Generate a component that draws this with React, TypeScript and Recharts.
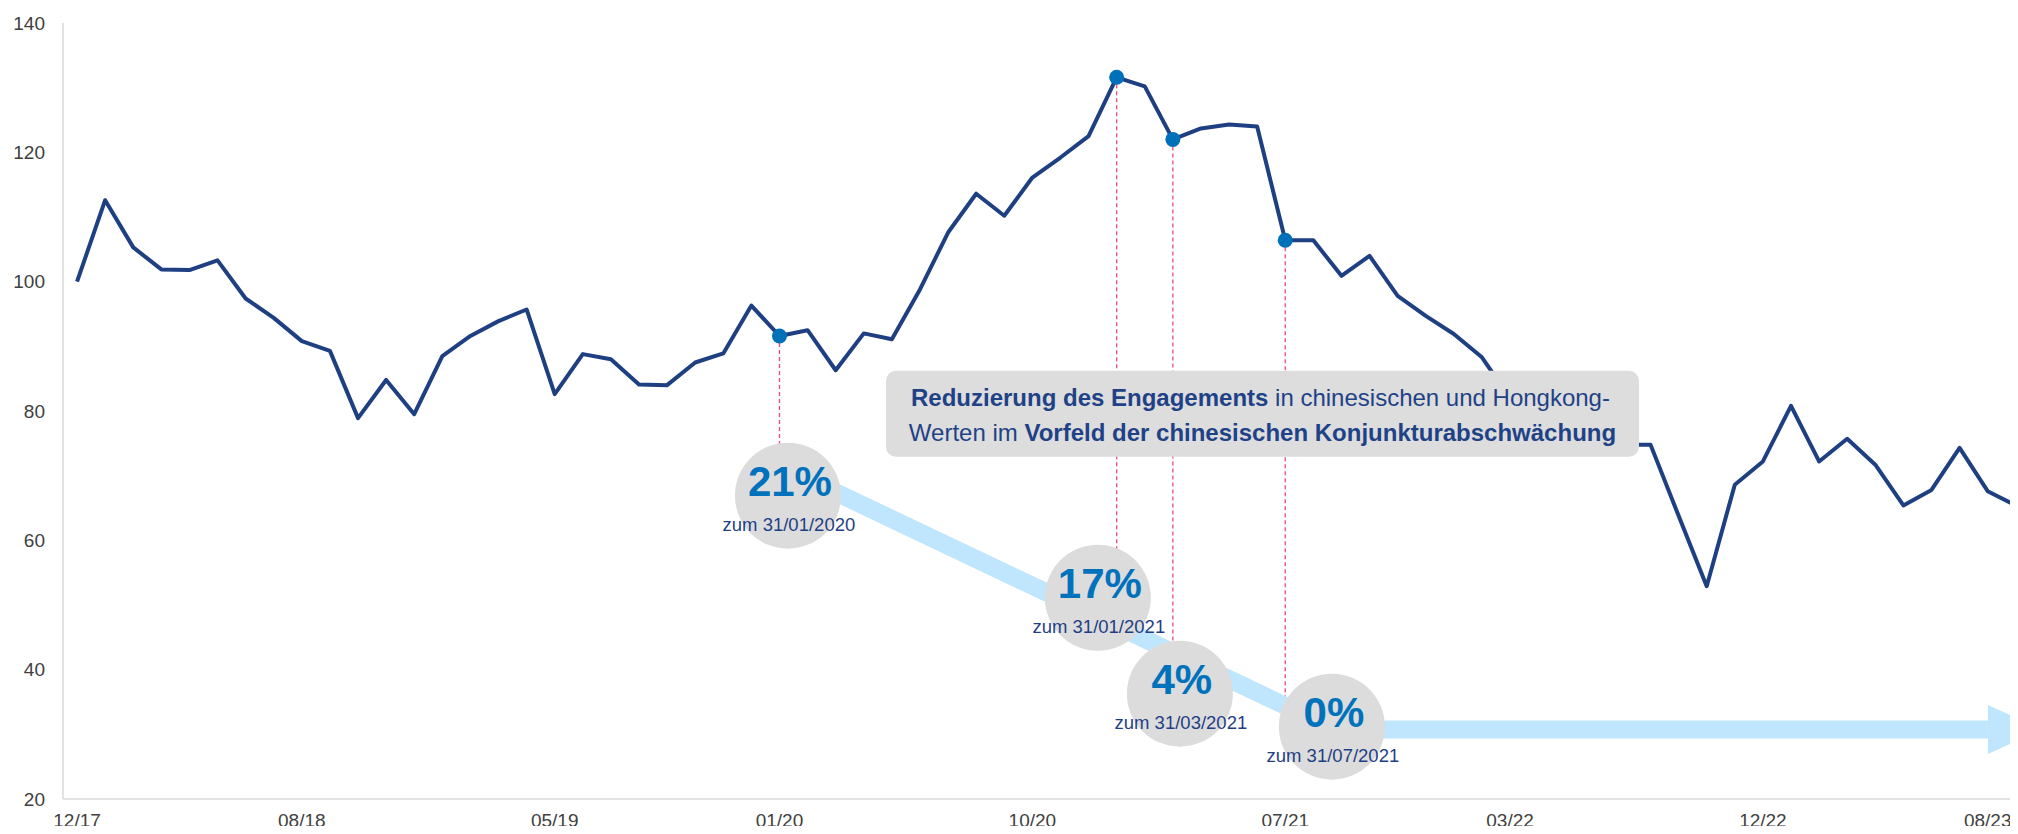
import { LineChart, Line, XAxis, YAxis, ReferenceLine, ReferenceDot, ReferenceArea } from 'recharts';

// index level, monthly, 12/17 = 100
const values = [
  100.0, 112.6, 105.3, 101.9, 101.8, 103.3, 97.4, 94.4, 90.8, 89.3,
  78.9, 84.8, 79.5, 88.5, 91.6, 93.9, 95.7, 82.6, 88.8, 88.0,
  84.1, 84.0, 87.5, 88.9, 96.3, 91.6, 92.5, 86.3, 92.0, 91.1,
  98.8, 107.6, 113.6, 110.2, 116.1, 119.2, 122.5, 131.6, 130.2, 122.0,
  123.7, 124.3, 124.0, 106.4, 106.4, 100.9, 104.0, 97.8, 94.7, 91.9,
  88.3, 82.0, 78.5, 76.0, 75.0, 74.8, 74.8, 63.8, 52.9, 68.6,
  72.2, 80.8, 72.2, 75.7, 71.7, 65.4, 67.8, 74.3, 67.6, 65.4,
  65.0,
];
const tickIndex = [0, 8, 17, 25, 34, 43, 51, 60, 68];
const tickLabels = ['12/17', '08/18', '05/19', '01/20', '10/20', '07/21', '03/22', '12/22', '08/23'];
const yTicks = [20, 40, 60, 80, 100, 120, 140];
const markerIndex = [25, 37, 39, 43];

// bubbles: China/HK weight at each step
const bubblePct = ['21%', '17%', '4%', '0%'];
const bubbleDate = ['zum 31/01/2020', 'zum 31/01/2021', 'zum 31/03/2021', 'zum 31/07/2021'];
const bubbleX = [25.3, 36.33, 39.25, 44.66];
const bubbleY = [66.91, 51.13, 36.29, 31.19];

// arrow path (chart units)
const arrowStart = { x: 25.3, y: 70.93 };
const arrowCorner = { x: 44.77, y: 30.75 };
const arrowEndX = 69.93;

const boxX = [28.79, 55.59];
const boxY = [72.94, 86.23];

const data = values.map((v, i) => ({ i, v }));

const W = 2080;
const H = 834;
const FONT = '"Liberation Sans", Arial, sans-serif';
const NAVY = '#1E4082';
const BAND = '#BFE6FC';
const xDomain: [number, number] = [-0.5, 71.25];
const hiddenMargin = { top: 23, right: 1, left: 63, bottom: 35 };

export default function App() {
  const layer: React.CSSProperties = { position: 'absolute', left: 0, top: 0 };
  const axesHidden = [
    <XAxis key="x" type="number" dataKey="i" domain={xDomain} hide allowDataOverflow />,
    <YAxis key="y" type="number" dataKey="v" domain={[20, 140]} hide allowDataOverflow />,
  ];

  return (
    <div style={{ position: 'relative', width: 2018, height: 834, overflow: 'hidden', margin: -8, background: '#fff' }}>
      {/* axes + dashed guides */}
      <div style={layer}>
        <LineChart width={W} height={H} data={data} margin={{ top: 23, right: 1, left: 0, bottom: 0 }}>
          <XAxis
            type="number"
            dataKey="i"
            domain={xDomain}
            allowDataOverflow
            ticks={tickIndex}
            interval={0}
            height={35}
            tickFormatter={(v: number) => tickLabels[tickIndex.indexOf(v)]}
            tick={{ fill: '#404040', fontSize: 19, fontFamily: FONT }}
            tickLine={false}
            tickMargin={9}
            axisLine={{ stroke: '#D9D9D9', strokeWidth: 1.5 }}
          />
          <YAxis
            type="number"
            dataKey="v"
            domain={[20, 140]}
            allowDataOverflow
            ticks={yTicks}
            interval={0}
            width={63}
            tick={{ fill: '#404040', fontSize: 19, fontFamily: FONT }}
            tickLine={false}
            tickMargin={12}
            axisLine={{ stroke: '#D9D9D9', strokeWidth: 1.5 }}
          />
          {markerIndex.map((m, k) => (
            <ReferenceLine
              key={m}
              segment={[{ x: m, y: values[m] }, { x: m, y: bubbleY[k] }]}
              stroke="#EA4D72"
              strokeWidth={1.3}
              strokeDasharray="4 3"
            />
          ))}
        </LineChart>
      </div>

      {/* index line */}
      <div style={layer}>
        <LineChart width={W} height={H} data={data} margin={hiddenMargin}>
          {axesHidden}
          <Line
            type="linear"
            dataKey="v"
            stroke={NAVY}
            strokeWidth={4}
            strokeLinejoin="round"
            isAnimationActive={false}
            activeDot={false}
            dot={(p: any) =>
              markerIndex.includes(p.payload.i) ? (
                <circle key={p.index} cx={p.cx} cy={p.cy} r={7.5} fill="#0070B8" />
              ) : (
                <g key={p.index} />
              )
            }
          />
        </LineChart>
      </div>

      {/* light blue arrow */}
      <div style={layer}>
        <LineChart width={W} height={H} data={data} margin={hiddenMargin}>
          {axesHidden}
          <ReferenceLine segment={[arrowStart, arrowCorner]} stroke={BAND} strokeWidth={18} />
          <ReferenceLine
            segment={[arrowCorner, { x: arrowEndX, y: arrowCorner.y }]}
            shape={(p: any) => (
              <g>
                <line x1={p.x1} y1={p.y1} x2={p.x2 - 54} y2={p.y2} stroke={BAND} strokeWidth={18} />
                <polygon
                  points={`${p.x2 - 54},${p.y2 - 24.5} ${p.x2},${p.y2} ${p.x2 - 54},${p.y2 + 24.5}`}
                  fill={BAND}
                />
              </g>
            )}
          />
        </LineChart>
      </div>

      {/* bubbles + text box */}
      <div style={layer}>
        <LineChart width={W} height={H} data={data} margin={hiddenMargin}>
          {axesHidden}
          {bubblePct.map((pct, k) => (
            <ReferenceDot
              key={pct}
              x={bubbleX[k]}
              y={bubbleY[k]}
              r={53}
              shape={(p: any) => (
                <g>
                  <circle cx={p.cx} cy={p.cy} r={53} fill="#DCDCDC" />
                  <text x={p.cx + 2} y={p.cy} textAnchor="middle" fontFamily={FONT} fontSize={42} fontWeight="bold" fill="#0072BC">
                    {pct}
                  </text>
                  <text x={p.cx + 1} y={p.cy + 35} textAnchor="middle" fontFamily={FONT} fontSize={18.5} fill="#1F3F85">
                    {bubbleDate[k]}
                  </text>
                </g>
              )}
            />
          ))}
          <ReferenceArea
            x1={boxX[0]}
            x2={boxX[1]}
            y1={boxY[0]}
            y2={boxY[1]}
            shape={(p: any) => (
              <g>
                <rect x={p.x} y={p.y} width={p.width} height={p.height} rx={10} ry={10} fill="#DDDDDD" />
                <text x={p.x + p.width / 2 - 2} y={p.y + 35.7} textAnchor="middle" fontFamily={FONT} fontSize={24} fill="#1F4287">
                  <tspan fontWeight="bold">Reduzierung des Engagements</tspan>
                  <tspan> in chinesischen und Hongkong-</tspan>
                </text>
                <text x={p.x + p.width / 2} y={p.y + 70.7} textAnchor="middle" fontFamily={FONT} fontSize={24} fill="#1F4287">
                  <tspan>Werten im </tspan>
                  <tspan fontWeight="bold">Vorfeld der chinesischen Konjunkturabschwächung</tspan>
                </text>
              </g>
            )}
          />
        </LineChart>
      </div>
    </div>
  );
}
